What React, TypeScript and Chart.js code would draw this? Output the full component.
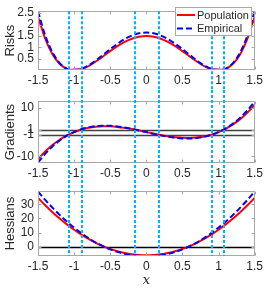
import React, { useEffect, useRef } from "react";
import { Chart, registerables } from "chart.js";
Chart.register(...registerables);

const xs = [-1.5, -1.4, -1.3, -1.2, -1.1, -1.0, -0.9, -0.8, -0.7, -0.6, -0.5, -0.4, -0.3, -0.2, -0.1, 0, 0.1, 0.2, 0.3, 0.4, 0.5, 0.6, 0.7, 0.8, 0.9, 1.0, 1.1, 1.2, 1.3, 1.4, 1.5];
const riskPop = [2.34, 1.38, 0.71, 0.29, 0.07, 0.03, 0.06, 0.19, 0.39, 0.61, 0.84, 1.06, 1.24, 1.38, 1.47, 1.5, 1.47, 1.38, 1.24, 1.06, 0.84, 0.61, 0.39, 0.19, 0.06, 0.03, 0.07, 0.29, 0.71, 1.38, 2.34];
const riskEmp = [2.58, 1.52, 0.79, 0.32, 0.08, 0.03, 0.07, 0.22, 0.43, 0.68, 0.93, 1.16, 1.37, 1.52, 1.62, 1.65, 1.62, 1.52, 1.37, 1.16, 0.93, 0.68, 0.43, 0.22, 0.07, 0.03, 0.08, 0.32, 0.79, 1.52, 2.58];
const gradPop = [-11.25, -8.06, -5.38, -3.17, -1.39, 0, 1.07, 1.8, 2.25, 2.42, 2.38, 2.15, 1.75, 1.24, 0.64, 0, -0.64, -1.24, -1.75, -2.15, -2.38, -2.42, -2.25, -1.8, -1.07, 0, 1.39, 3.17, 5.38, 8.06, 11.25];
const gradEmp = [-12.6, -9.0, -5.95, -3.5, -1.5, 0, 1.15, 1.95, 2.45, 2.65, 2.6, 2.35, 1.9, 1.35, 0.7, 0, -0.7, -1.35, -1.9, -2.35, -2.6, -2.65, -2.45, -1.95, -1.15, 0, 1.5, 3.5, 5.95, 9.0, 12.6];
const hessPop = [34.5, 29.28, 24.42, 19.92, 15.78, 12, 8.58, 5.52, 2.82, 0.48, -1.5, -3.12, -4.38, -5.28, -5.82, -6, -5.82, -5.28, -4.38, -3.12, -1.5, 0.48, 2.82, 5.52, 8.58, 12, 15.78, 19.92, 24.42, 29.28, 34.5];
const hessEmp = [39.0, 33.1, 27.6, 22.5, 17.8, 13.5, 9.6, 6.1, 3.0, 0.4, -1.8, -3.6, -5.0, -5.9, -6.4, -6.5, -6.4, -5.9, -5.0, -3.6, -1.8, 0.4, 3.0, 6.1, 9.6, 13.5, 17.8, 22.5, 27.6, 33.1, 39.0];

const xTicks = [-1.5, -1, -0.5, 0, 0.5, 1, 1.5];
const riskTicks = [0.5, 1, 1.5, 2, 2.5];
const gradTicks = [-10, -1, 1, 10];
const hessTicks = [0, 10, 20, 30];
const markerXs = [-1.072, -0.893, -0.153, 0.173, 0.916, 1.074];
const gradRefLines = [1, -1];
const hessRefLines = [0];
const legendLabels = ["Population", "Empirical"];

const W = 266;
const FONT = "'Liberation Sans', Arial, Helvetica, sans-serif";
const TXT = "#262626";
const AXC = "#a8a8a8";
const RED = "#ff0000";
const BLUE = "#0000ff";
const SKY = "rgb(0,180,255)";

type Panel = {
  pop: number[];
  emp: number[];
  yTicks: number[];
  yMin: number;
  yMax: number;
  yTitle: string;
  refLines: number[];
  refColor: string;
  height: number;
  top: number;
  bottom: number;
  vTopToCanvas: boolean;
  vBottomToCanvas: boolean;
  legend: boolean;
  xTitle: boolean;
};

function makePlugin(p: Panel) {
  return {
    id: "frame",
    beforeDatasetsDraw(chart: any) {
      const { ctx, chartArea: a, scales } = chart;
      const y = scales.y;
      ctx.save();
      for (const v of p.refLines) {
        const py = Math.round(y.getPixelForValue(v)) + 0.5;
        ctx.strokeStyle = p.refColor;
        ctx.lineWidth = 1.5;
        ctx.beginPath();
        ctx.moveTo(a.left, py);
        ctx.lineTo(a.right, py);
        ctx.stroke();
      }
      ctx.restore();
    },
    afterDraw(chart: any) {
      const { ctx, chartArea: a, scales } = chart;
      const x = scales.x;
      const y = scales.y;
      ctx.save();
      // box
      ctx.strokeStyle = AXC;
      ctx.lineWidth = 1;
      const L = Math.round(a.left) + 0.5;
      const R = Math.round(a.right) - 0.5;
      const T = Math.round(a.top) + 0.5;
      const B = Math.round(a.bottom) - 0.5;
      ctx.strokeRect(L, T, R - L, B - T);
      ctx.beginPath();
      for (const v of xTicks) {
        const px = Math.round(x.getPixelForValue(v)) + 0.5;
        ctx.moveTo(px, B);
        ctx.lineTo(px, B - 3);
        ctx.moveTo(px, T);
        ctx.lineTo(px, T + 3);
      }
      for (const v of p.yTicks) {
        const py = Math.round(y.getPixelForValue(v)) + 0.5;
        ctx.moveTo(L, py);
        ctx.lineTo(L + 3, py);
        ctx.moveTo(R, py);
        ctx.lineTo(R - 3, py);
      }
      ctx.stroke();
      // vertical dotted markers
      ctx.strokeStyle = SKY;
      ctx.lineWidth = 2;
      ctx.setLineDash([3, 2]);
      const vt = p.vTopToCanvas ? 0 : a.top;
      const vb = p.vBottomToCanvas ? chart.height : a.bottom;
      for (const v of markerXs) {
        const px = Math.round(x.getPixelForValue(v));
        ctx.beginPath();
        ctx.moveTo(px, vt);
        ctx.lineTo(px, vb);
        ctx.stroke();
      }
      ctx.setLineDash([]);
      if (p.legend) {
        const bx = 175.5, by = 7.5, bw = 76, bh = 28;
        ctx.fillStyle = "#ffffff";
        ctx.fillRect(bx, by, bw, bh);
        ctx.strokeStyle = AXC;
        ctx.lineWidth = 1;
        ctx.strokeRect(bx, by, bw, bh);
        ctx.font = `11px ${FONT}`;
        ctx.textBaseline = "middle";
        ctx.textAlign = "left";
        ctx.fillStyle = TXT;
        const rows = [
          { y: 15, color: RED, dash: [] as number[] },
          { y: 28.5, color: BLUE, dash: [6, 3] },
        ];
        rows.forEach((r, i) => {
          ctx.strokeStyle = r.color;
          ctx.lineWidth = 2;
          ctx.setLineDash(r.dash);
          ctx.beginPath();
          ctx.moveTo(177, r.y);
          ctx.lineTo(195, r.y);
          ctx.stroke();
          ctx.setLineDash([]);
          ctx.fillText(legendLabels[i], 197, r.y + 0.5);
        });
      }
      ctx.restore();
    },
  };
}

function makeConfig(p: Panel): any {
  const pts = (arr: number[]) => xs.map((xv, i) => ({ x: xv, y: arr[i] }));
  return {
    type: "line",
    data: {
      datasets: [
        {
          label: legendLabels[1],
          data: pts(p.emp),
          borderColor: BLUE,
          borderWidth: 2,
          borderDash: [6, 3],
          pointRadius: 0,
          cubicInterpolationMode: "monotone",
          fill: false,
        },
        {
          label: legendLabels[0],
          data: pts(p.pop),
          borderColor: RED,
          borderWidth: 2,
          pointRadius: 0,
          cubicInterpolationMode: "monotone",
          fill: false,
        },
      ],
    },
    options: {
      responsive: false,
      animation: false,
      devicePixelRatio: 1,
      events: [],
      layout: { padding: { top: p.top, right: 11, left: 0, bottom: 0 } },
      plugins: { legend: { display: false }, tooltip: { enabled: false } },
      scales: {
        x: {
          type: "linear",
          min: -1.5,
          max: 1.5,
          grid: { display: false, drawTicks: false },
          border: { display: false },
          afterBuildTicks: (s: any) => {
            s.ticks = xTicks.map((v) => ({ value: v }));
          },
          afterFit: (s: any) => {
            s.height = p.height - p.bottom;
          },
          ticks: {
            autoSkip: false,
            maxRotation: 0,
            padding: 3,
            color: TXT,
            font: { family: FONT, size: 12 },
            callback: (v: number) => String(v),
          },
          title: p.xTitle
            ? {
                display: true,
                text: "x",
                color: TXT,
                font: { family: "'DejaVu Serif', 'Liberation Serif', serif", size: 13, style: "italic" },
                padding: { top: 0, bottom: 1 },
              }
            : { display: false },
        },
        y: {
          type: "linear",
          min: p.yMin,
          max: p.yMax,
          grid: { display: false, drawTicks: false },
          border: { display: false },
          afterBuildTicks: (s: any) => {
            s.ticks = p.yTicks.map((v) => ({ value: v }));
          },
          afterFit: (s: any) => {
            s.width = 38;
          },
          ticks: {
            autoSkip: false,
            padding: 4,
            color: TXT,
            font: { family: FONT, size: 12 },
            callback: (v: number) => String(v),
          },
          title: {
            display: true,
            text: p.yTitle,
            color: TXT,
            font: { family: FONT, size: 13 },
            padding: { top: 3, bottom: 0 },
          },
        },
      },
    },
    plugins: [makePlugin(p)],
  };
}

const panels: Panel[] = [
  {
    pop: riskPop, emp: riskEmp, yTicks: riskTicks, yMin: 0.02, yMax: 2.58, yTitle: "Risks",
    refLines: [], refColor: "#000", height: 90, top: 5, bottom: 70,
    vTopToCanvas: false, vBottomToCanvas: true, legend: true, xTitle: false,
  },
  {
    pop: gradPop, emp: gradEmp, yTicks: gradTicks, yMin: -12.8, yMax: 12.8, yTitle: "Gradients",
    refLines: gradRefLines, refColor: "#404040", height: 90, top: 8, bottom: 73,
    vTopToCanvas: true, vBottomToCanvas: true, legend: false, xTitle: false,
  },
  {
    pop: hessPop, emp: hessEmp, yTicks: hessTicks, yMin: -6.5, yMax: 39.2, yTitle: "Hessians",
    refLines: hessRefLines, refColor: "#000", height: 109, top: 10, bottom: 76,
    vTopToCanvas: true, vBottomToCanvas: false, legend: false, xTitle: true,
  },
];
const offsets = [0, 90, 180];

export default function App() {
  const r0 = useRef<HTMLCanvasElement>(null);
  const r1 = useRef<HTMLCanvasElement>(null);
  const r2 = useRef<HTMLCanvasElement>(null);
  const refs = [r0, r1, r2];
  useEffect(() => {
    const charts = panels.map((p, i) => new Chart(refs[i].current as HTMLCanvasElement, makeConfig(p)));
    return () => charts.forEach((c) => c.destroy());
  }, []);
  return (
    <div style={{ position: "fixed", left: 0, top: 0, width: W, height: 289, background: "#fff" }}>
      {panels.map((p, i) => (
        <canvas
          key={i}
          ref={refs[i]}
          width={W}
          height={p.height}
          style={{ position: "absolute", left: 0, top: offsets[i], width: W, height: p.height }}
        />
      ))}
    </div>
  );
}
